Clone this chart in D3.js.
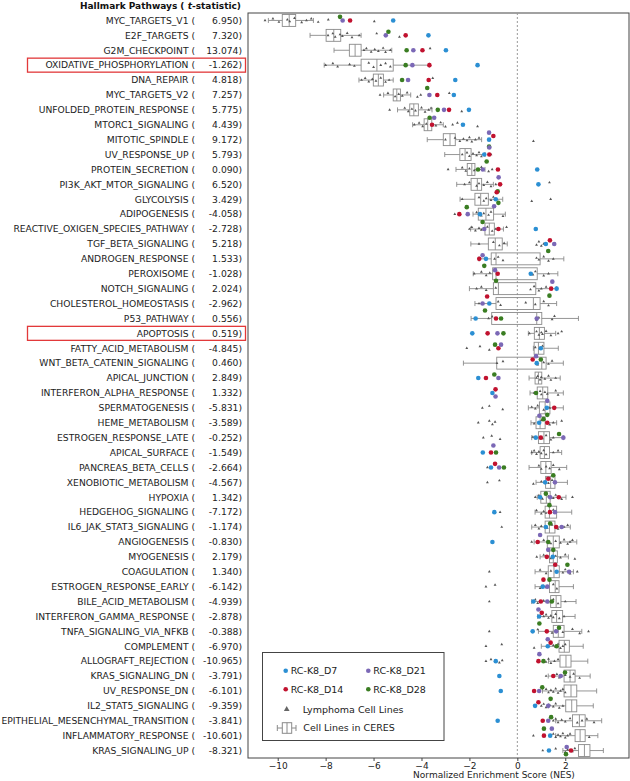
<!DOCTYPE html>
<html><head><meta charset="utf-8">
<script src="https://cdn.jsdelivr.net/npm/d3@7"></script>
<style>body{margin:0;background:#fff}svg{display:block;font-family:"DejaVu Sans",sans-serif}</style>
</head><body>
<script>
const pathways = ["MYC_TARGETS_V1","E2F_TARGETS","G2M_CHECKPOINT","OXIDATIVE_PHOSPHORYLATION","DNA_REPAIR","MYC_TARGETS_V2","UNFOLDED_PROTEIN_RESPONSE","MTORC1_SIGNALING","MITOTIC_SPINDLE","UV_RESPONSE_UP","PROTEIN_SECRETION","PI3K_AKT_MTOR_SIGNALING","GLYCOLYSIS","ADIPOGENESIS","REACTIVE_OXIGEN_SPECIES_PATHWAY","TGF_BETA_SIGNALING","ANDROGEN_RESPONSE","PEROXISOME","NOTCH_SIGNALING","CHOLESTEROL_HOMEOSTASIS","P53_PATHWAY","APOPTOSIS","FATTY_ACID_METABOLISM","WNT_BETA_CATENIN_SIGNALING","APICAL_JUNCTION","INTERFERON_ALPHA_RESPONSE","SPERMATOGENESIS","HEME_METABOLISM","ESTROGEN_RESPONSE_LATE","APICAL_SURFACE","PANCREAS_BETA_CELLS","XENOBIOTIC_METABOLISM","HYPOXIA","HEDGEHOG_SIGNALING","IL6_JAK_STAT3_SIGNALING","ANGIOGENESIS","MYOGENESIS","COAGULATION","ESTROGEN_RESPONSE_EARLY","BILE_ACID_METABOLISM","INTERFERON_GAMMA_RESPONSE","TNFA_SIGNALING_VIA_NFKB","COMPLEMENT","ALLOGRAFT_REJECTION","KRAS_SIGNALING_DN","UV_RESPONSE_DN","IL2_STAT5_SIGNALING","EPITHELIAL_MESENCHYMAL_TRANSITION","INFLAMMATORY_RESPONSE","KRAS_SIGNALING_UP"];
const tStats = ["6.950","7.320","13.074","-1.262","4.818","7.257","5.775","4.439","9.172","5.793","0.090","6.520","3.429","-4.058","-2.728","5.218","1.533","-1.028","2.024","-2.962","0.556","0.519","-4.845","0.460","2.849","1.332","-5.831","-3.589","-0.252","-1.549","-2.664","-4.567","1.342","-7.172","-1.174","-0.830","2.179","1.340","-6.142","-4.939","-2.878","-0.388","-6.970","-10.965","-3.791","-6.101","-9.359","-3.841","-10.601","-8.321"];
const highlighted = ["OXIDATIVE_PHOSPHORYLATION","APOPTOSIS"];

// CERES box statistics
const whiskerLow = [-10.39,-8.65,-7.65,-8.06,-6.61,-5.58,-5.00,-4.37,-3.76,-3.03,-2.56,-2.53,-2.39,-1.85,-1.95,-1.94,-1.60,-1.84,-2.00,-1.77,-1.93,0.46,0.67,-2.25,0.49,0.53,0.46,0.57,0.60,0.60,0.49,0.78,0.83,0.74,0.60,0.70,0.95,0.74,0.74,0.60,0.85,0.88,1.00,1.30,1.29,1.05,1.30,1.60,1.60,1.90];
const q1 = [-9.81,-7.98,-7.01,-6.52,-6.01,-5.18,-4.49,-3.89,-3.09,-2.40,-2.09,-1.93,-1.77,-1.63,-1.35,-1.21,-1.09,-1.03,-1.00,-0.89,-1.07,0.71,0.70,-0.86,0.74,0.83,0.92,0.78,0.88,0.95,0.98,1.18,0.98,1.16,1.16,1.25,1.34,1.29,1.34,1.39,1.44,1.50,1.74,1.78,1.95,1.95,2.02,2.30,2.41,2.55];
const median = [-9.52,-7.66,-6.77,-5.86,-5.80,-5.03,-4.32,-3.74,-2.81,-2.18,-1.90,-1.67,-1.53,-1.31,-1.17,-0.92,-0.89,-0.89,-0.79,0.67,0.81,0.92,0.88,1.02,0.88,1.06,1.16,0.95,1.11,1.13,1.19,1.39,1.21,1.34,1.34,1.50,1.50,1.53,1.58,1.62,1.64,1.71,1.96,2.03,2.20,2.24,2.27,2.59,2.62,2.80];
const q3 = [-9.25,-7.37,-6.52,-5.18,-5.59,-4.88,-4.13,-3.57,-2.59,-1.93,-1.77,-1.49,-1.21,-0.99,-0.96,-0.63,0.95,0.83,0.77,0.95,1.02,1.13,1.11,1.20,1.02,1.27,1.36,1.16,1.34,1.34,1.41,1.57,1.37,1.64,1.57,1.75,1.67,1.75,1.74,1.82,1.89,1.95,2.17,2.24,2.41,2.48,2.48,2.83,2.83,3.03];
const whiskerHigh = [-8.51,-6.52,-5.24,-3.67,-5.18,-4.45,-3.56,-3.09,-1.49,-1.35,-1.35,-1.00,-0.61,-0.50,-0.58,-0.42,1.94,1.69,1.64,1.64,2.55,1.60,1.71,1.92,1.79,1.92,1.92,1.64,1.92,1.85,2.06,2.09,2.03,2.27,2.21,2.48,2.13,2.34,2.34,2.45,2.41,2.69,2.75,2.94,3.04,3.31,3.17,3.52,3.36,3.59];

// RC-K8 samples
const rcD7  = [-5.18,-3.71,-2.98,-1.66,-2.59,-2.65,-2.02,-2.27,-1.18,-1.38,0.83,0.88,-0.90,-1.56,0.77,1.19,-1.31,0.56,1.64,-1.17,-1.74,-1.88,0.98,0.81,-1.63,-1.04,1.23,0.91,0.77,-1.44,-1.10,1.16,0.95,-0.96,1.19,-1.04,1.48,1.64,1.06,0.67,0.91,0.64,1.27,-0.90,-0.75,-0.69,0.74,-0.82,1.37,1.32];
const rcD14 = [-6.98,-4.66,-3.96,-3.67,-3.70,-3.34,-2.85,-3.56,-1.00,-1.17,-0.81,-0.72,-0.86,-2.42,-0.79,1.36,-1.59,-0.82,1.41,-1.26,-0.89,-1.24,-0.79,0.64,-1.31,-0.91,1.54,1.25,0.98,-1.10,-0.93,1.29,1.73,1.36,1.62,0.85,1.23,1.58,1.09,0.98,1.02,1.23,1.39,0.88,1.50,0.70,0.88,1.06,1.11,2.24];
const rcD21 = [-7.29,-5.49,-4.34,-4.38,-4.56,-3.67,-3.06,-3.47,-1.18,-1.17,-1.44,-0.78,-0.97,-2.07,-1.38,1.54,-1.45,-0.93,1.46,-1.45,0.81,-0.83,-0.68,0.78,-0.79,-0.91,1.25,0.92,1.92,-1.00,-0.76,1.57,1.37,1.57,1.85,0.95,1.29,2.16,1.25,1.25,0.88,1.62,1.27,0.92,1.81,0.91,1.29,1.29,1.44,2.06];
const rcD28 = [-7.40,-5.38,-4.62,-4.66,-4.81,-3.76,-3.32,-3.66,-1.18,-1.28,-1.64,-0.82,-0.79,-2.11,-1.45,1.29,-1.38,-0.89,1.34,-1.35,-0.68,-0.58,-0.93,0.98,-0.96,0.78,1.25,1.09,1.74,-0.89,-0.56,1.50,1.19,1.34,1.37,1.29,1.50,2.09,1.34,1.44,0.92,1.74,1.64,1.09,1.99,1.04,1.39,1.41,1.11,2.03];

// Lymphoma cell lines (small triangles)
const lymphoma = [
 [-10.53,-10.2,-9.95,-9.6,-9.5,-9.3,-9.0,-8.8,-8.6,-8.31,-7.89,-5.97],
 [-7.9,-7.7,-7.6,-7.4,-7.3,-7.1,-6.9,-6.6,-5.87,-4.92],
 [-6.4,-6.3,-6.1,-5.95,-5.8,-5.6,-5.5,-5.3,-3.64],
 [-8.0,-7.7,-7.5,-7.0,-6.8,-6.2,-6.0,-5.7,-5.5,-5.3],
 [-6.5,-6.35,-6.2,-6.05,-5.9,-5.7,-5.5,-5.35,-3.53],
 [-5.73,-5.4,-5.1,-4.95,-4.8,-4.6,-4.17,-4.03,-2.84],
 [-5.33,-4.7,-4.55,-4.4,-4.25,-4.0,-3.85,-3.7,-3.6,-2.32],
 [-4.3,-4.1,-3.95,-3.8,-3.4,-3.2,-3.0,-2.7,-2.5,-1.66],
 [-3.0,-2.6,-2.4,-2.25,-2.1,-2.0,-1.9,-1.75,-1.6,0.67],
 [-2.3,-2.1,-2.0,-1.85,-1.7,-1.6,-1.5,-1.1],
 [-2.89,-2.3,-2.15,-2.0,-1.8,-1.5,-1.2,-1.05],
 [-2.2,-2.0,-1.7,-1.6,-1.4,-1.25,-1.1,-0.9,1.34],
 [-2.3,-1.6,-1.4,-1.3,-1.1,-1.0,0.60,1.39],
 [-2.61,-1.7,-1.5,-1.4,-1.2,-1.1,-0.6],
 [-2.0,-1.9,-1.75,-1.6,-1.5,-1.25,-1.05,-0.9,-0.45],
 [-1.6,-1.0,-0.75,-0.55,0.8,0.9,1.0,1.1],
 [-0.95,-0.8,-0.6,0.8,0.9,1.1,1.3,1.5],
 [-1.8,-1.5,-1.3,-1.15,0.65,0.75,1.1,1.3],
 [-1.7,-1.5,-1.3,-0.9,0.55,0.7,0.9,1.0,1.2],
 [-1.6,-0.8,-0.7,0.35,0.75,1.1,1.3],
 [-1.2,-1.05,0.8,0.9,1.45,1.55],
 [0.5,0.8,0.9,1.0,1.05,1.2,1.4,1.7,1.85],
 [-2.11,-1.56,-1.17,0.75,0.95,1.05],
 [-0.85,-0.6,0.85,1.1,1.3,1.45],
 [0.8,0.85,0.95,1.0,1.15,1.3,1.4,1.6],
 [0.7,0.95,1.0,1.15,1.25,1.6,1.7],
 [-1.46,-1.17,-0.61,0.6,0.75,0.85,1.1,1.35],
 [-1.63,-1.17,-1.04,-0.93,0.7,1.0,1.35,1.5,1.85],
 [-1.42,-1.07,-0.72,0.65,1.05,1.2,1.4,1.5],
 [0.6,0.7,0.8,0.9,1.0,1.1,1.2,1.5,1.7],
 [-1.25,0.9,1.0,1.2,1.35,1.5,1.75],
 [-1.25,-0.75,0.67,1.0,1.3,1.45],
 [0.75,0.9,1.05,1.3,1.5,1.6,1.85,2.3],
 [-0.72,0.8,1.0,1.1,1.2,1.5],
 [-0.65,0.75,0.9,1.0,1.25,1.45,1.7,1.95,2.1],
 [0.6,1.1,1.4,1.6,1.8,1.95,2.1,2.2,2.3],
 [0.81,1.1,1.4,1.6,1.8,2.0,2.4],
 [-1.17,0.95,1.2,1.4,1.9,2.0,2.2,2.5],
 [-1.31,-0.93,0.95,1.1,1.2,1.5,1.65],
 [-1.17,0.75,0.85,1.1,1.3,1.5,1.7,2.0],
 [1.1,1.2,1.3,1.4,1.5,1.6,1.75,1.95],
 [-1.17,0.85,1.45,1.6,1.9,2.3,2.6,2.97],
 [-1.31,-0.65,0.70,1.5,1.6,1.7,1.8,1.9,2.0],
 [-1.31,-1.10,-0.75,-0.63,1.2,1.3,1.4,1.55,1.7],
 [1.2,1.65,1.75,2.0,2.2,2.35,2.6],
 [-0.72,1.2,1.3,1.4,1.5,1.6,1.7,1.8,1.9,2.0],
 [1.0,1.1,1.2,1.35,1.5,1.6,1.75,1.9],
 [1.5,1.6,1.7,1.85,2.0,2.2,2.5,2.7,2.9,3.2],
 [0.67,1.5,1.6,1.7,1.8,1.9,2.0,2.1,2.2,3.0],
 [1.06,1.6,2.0,2.1,2.3,2.4]
];

const xTicks = [-10,-8,-6,-4,-2,0,2];
const seriesNames = ["RC-K8_D7","RC-K8_D14","RC-K8_D21","RC-K8_D28"];
const seriesColors = ["#2b8fd3","#c1122f","#7b68b6","#3a7d22"];
const seriesValues = [rcD7, rcD14, rcD21, rcD28];

const W = 630, H = 781;
const svg = d3.select("body").append("svg").attr("width", W).attr("height", H);
const plot = {left: 248, right: 629, top: 13, bottom: 758};

const x = d3.scaleLinear().domain([-11.24, 4.66]).range([plot.left, plot.right]);
const y = d3.scaleBand().domain(pathways).range([plot.top, plot.bottom]).padding(0);
const bw = y.bandwidth();
const cy = p => y(p) + bw / 2;

// title
const title = svg.append("text").attr("x", 241).attr("y", 9).attr("text-anchor", "end")
  .attr("font-size", 9).attr("font-weight", "bold").attr("fill", "#111");
title.append("tspan").text("Hallmark Pathways ( ");
title.append("tspan").attr("font-style", "italic").text("t");
title.append("tspan").text("-statistic)");

// labels
const lab = svg.append("g").attr("font-size", 9.2).attr("fill", "#222");
pathways.forEach((p, i) => {
  lab.append("text").attr("x", 195).attr("y", cy(p) + 3.3).attr("text-anchor", "end").text(p + " (");
  lab.append("text").attr("x", 242).attr("y", cy(p) + 3.3).attr("text-anchor", "end").text(tStats[i] + ")");
});
highlighted.forEach(p => {
  svg.append("rect").attr("x", 27.5).attr("y", cy(p) - 7).attr("width", 218).attr("height", 14)
    .attr("fill", "none").attr("stroke", "#e2393a").attr("stroke-width", 1.3);
});

// frame
svg.append("rect").attr("x", plot.left).attr("y", plot.top).attr("width", plot.right - plot.left)
  .attr("height", plot.bottom - plot.top).attr("fill", "none").attr("stroke", "#444").attr("stroke-width", 1);

// zero line
svg.append("line").attr("x1", x(0)).attr("x2", x(0)).attr("y1", plot.top).attr("y2", plot.bottom)
  .attr("stroke", "#999").attr("stroke-dasharray", "2,2").attr("stroke-width", 1);

// boxes
const boxG = svg.append("g").attr("stroke", "#8a8a8a").attr("fill", "none").attr("stroke-width", 0.9);
const boxH = bw * 0.8, capH = 5;
pathways.forEach((p, i) => {
  const c = cy(p);
  boxG.append("line").attr("x1", x(whiskerLow[i])).attr("x2", x(q1[i])).attr("y1", c).attr("y2", c);
  boxG.append("line").attr("x1", x(q3[i])).attr("x2", x(whiskerHigh[i])).attr("y1", c).attr("y2", c);
  boxG.append("line").attr("x1", x(whiskerLow[i])).attr("x2", x(whiskerLow[i])).attr("y1", c - capH/2).attr("y2", c + capH/2);
  boxG.append("line").attr("x1", x(whiskerHigh[i])).attr("x2", x(whiskerHigh[i])).attr("y1", c - capH/2).attr("y2", c + capH/2);
  boxG.append("rect").attr("x", x(q1[i])).attr("y", c - boxH/2).attr("width", x(q3[i]) - x(q1[i])).attr("height", boxH);
  boxG.append("line").attr("x1", x(median[i])).attr("x2", x(median[i])).attr("y1", c - boxH/2).attr("y2", c + boxH/2);
});

// lymphoma triangles
const tri = d3.symbol().type(d3.symbolTriangle).size(3.5);
const jit = [0, -1.8, 1.6, -0.8, 0.9, -2.2, 2.0];
const lg = svg.append("g").attr("fill", "#555");
lymphoma.forEach((vals, i) => {
  const c = cy(pathways[i]);
  vals.forEach((v, k) => {
    lg.append("path").attr("d", tri).attr("transform", `translate(${x(v)},${c + jit[k % jit.length]})`);
  });
});

// RC-K8 dots with simple dodge
const r = 2.3;
const dg = svg.append("g");
pathways.forEach((p, i) => {
  const c = cy(p);
  const pts = seriesValues.map((vals, s) => ({s, px: x(vals[i])}));
  const placed = [];
  const offs = [0, -3.6, 3.6, -7, 7];
  pts.forEach(pt => {
    let chosen = 0;
    for (const o of offs) {
      if (placed.every(q => Math.hypot(q.px - pt.px, q.oy - o) >= 2 * r - 0.2)) { chosen = o; break; }
    }
    pt.oy = chosen; placed.push(pt);
  });
  placed.forEach(pt => {
    dg.append("circle").attr("cx", pt.px).attr("cy", c + pt.oy).attr("r", r).attr("fill", seriesColors[pt.s]);
  });
});

// x axis
const ax = svg.append("g").attr("transform", `translate(0,${plot.bottom})`)
  .call(d3.axisBottom(x).tickValues(xTicks).tickSize(3).tickPadding(2));
ax.select(".domain").remove();
ax.selectAll("text").attr("font-size", 9).attr("font-family", "DejaVu Sans").attr("fill", "#222");
ax.selectAll("line").attr("stroke", "#444");
svg.append("text").attr("x", 494).attr("y", 778).attr("text-anchor", "middle").attr("font-size", 9)
  .attr("fill", "#222").text("Normalized Enrichment Score (NES)");

// legend
const L = svg.append("g").attr("font-size", 9.5).attr("fill", "#222");
L.append("rect").attr("x", 262.5).attr("y", 652.5).attr("width", 181.5).attr("height", 88)
  .attr("fill", "#fff").attr("stroke", "#444").attr("stroke-width", 1);
const legPos = [[285.7, 670.7], [285.7, 689.3], [368.3, 670.7], [368.3, 689.3]];
seriesNames.forEach((n, s) => {
  const [lx, ly] = legPos[s];
  L.append("circle").attr("cx", lx).attr("cy", ly).attr("r", r).attr("fill", seriesColors[s]);
  L.append("text").attr("x", lx + 5).attr("y", ly + 3.4).text(n);
});
L.append("path").attr("d", d3.symbol().type(d3.symbolTriangle).size(14)).attr("fill", "#666")
  .attr("transform", "translate(286.7,709.3)");
L.append("text").attr("x", 302.7).attr("y", 712.7).text("Lymphoma Cell Lines");
const bi = L.append("g").attr("stroke", "#8a8a8a").attr("fill", "none");
bi.append("line").attr("x1", 277.3).attr("x2", 296).attr("y1", 728).attr("y2", 728);
bi.append("line").attr("x1", 277.3).attr("x2", 277.3).attr("y1", 725).attr("y2", 731);
bi.append("line").attr("x1", 296).attr("x2", 296).attr("y1", 725).attr("y2", 731);
bi.append("rect").attr("x", 282.3).attr("y", 722.7).attr("width", 9.4).attr("height", 10.6).attr("fill", "#fff");
bi.append("line").attr("x1", 287).attr("x2", 287).attr("y1", 722.7).attr("y2", 733.3);
L.append("text").attr("x", 303.3).attr("y", 731.4).text("Cell Lines in CERES");
</script>
</body></html>
